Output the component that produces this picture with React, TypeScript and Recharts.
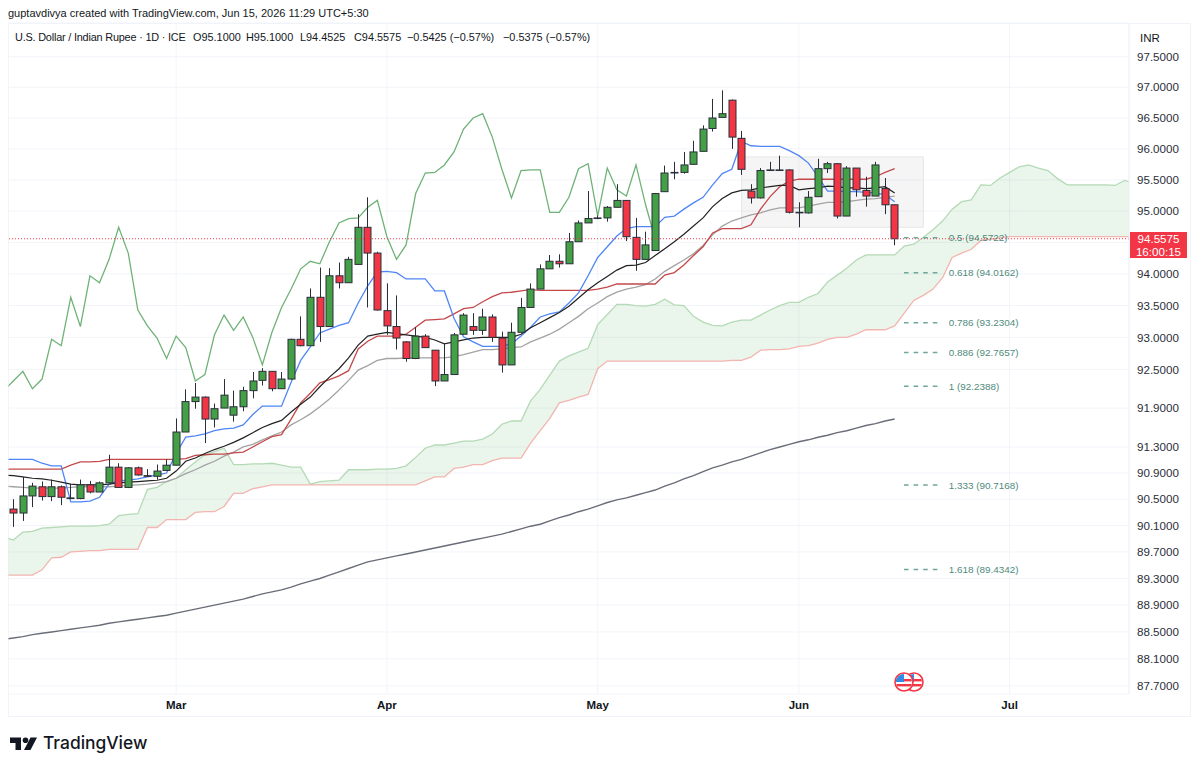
import { ComposedChart, Bar, Line, Area, XAxis, YAxis, CartesianGrid, ReferenceLine, ReferenceArea, ReferenceDot } from 'recharts';

// daily USD/INR candles, bar 0 = Feb 5 2026, last bar (92) = Jun 15 2026
const opens = [
    90.35, 90.29, 90.55, 90.69, 90.54, 90.69, 90.52, 90.51, 90.72, 90.61,
    90.75, 90.99, 90.68, 90.98, 90.86, 90.85, 90.94, 91.02, 91.53, 92.0,
    92.07, 91.73, 91.9, 91.79, 91.92, 92.17, 92.33, 92.47, 92.2, 92.35,
    92.97, 92.87, 93.63, 93.17, 93.97, 93.86, 94.15, 94.74, 94.33, 93.42,
    93.17, 92.93, 92.67, 93.02, 92.8, 92.32, 92.42, 93.05, 93.17, 93.11,
    93.32, 92.99, 92.57, 93.08, 93.47, 93.76, 94.08, 94.2, 94.16, 94.51,
    94.81, 94.88, 94.89, 95.06, 95.17, 94.58, 94.23, 94.37, 95.31, 95.62,
    95.62, 95.75, 95.96, 96.33, 96.51, 96.79, 96.17, 95.32, 95.21, 95.66,
    95.66, 95.66, 94.98, 94.97, 95.23, 95.68, 95.76, 94.92, 95.69, 95.33,
    95.24, 95.36, 95.1,
];
const highs = [
    90.5, 90.84, 90.75, 90.77, 90.8, 90.71, 90.73, 90.8, 90.78, 90.77,
    91.18, 91.05, 90.99, 91.0, 90.96, 91.03, 91.11, 91.74, 92.19, 92.29,
    92.08, 91.97, 92.35, 92.17, 92.23, 92.46, 92.52, 92.47, 92.46, 92.98,
    93.33, 93.77, 94.1, 94.09, 94.18, 94.27, 94.95, 95.22, 94.35, 93.85,
    93.66, 92.94, 93.16, 93.05, 92.8, 92.9, 93.07, 93.38, 93.38, 93.45,
    93.36, 93.09, 93.23, 93.62, 93.85, 94.15, 94.3, 94.31, 94.65, 94.85,
    95.32, 94.93, 95.08, 95.43, 95.17, 94.89, 94.67, 95.29, 95.73, 95.79,
    95.95, 96.13, 96.38, 96.81, 96.95, 96.8, 96.29, 95.43, 95.69, 95.79,
    95.89, 95.67, 95.14, 95.32, 95.84, 95.79, 95.77, 95.72, 95.69, 95.55,
    95.79, 95.53, 95.1,
];
const lows = [
    90.08, 90.17, 90.38, 90.48, 90.47, 90.41, 90.5, 90.5, 90.59, 90.61,
    90.75, 90.68, 90.67, 90.86, 90.84, 90.8, 90.93, 91.02, 91.53, 91.89,
    91.36, 91.6, 91.9, 91.69, 91.85, 92.05, 92.25, 92.16, 92.2, 92.34,
    92.86, 92.87, 92.93, 93.17, 93.77, 93.86, 94.14, 93.47, 93.42, 93.04,
    92.81, 92.62, 92.66, 92.84, 92.24, 92.32, 92.42, 93.04, 93.04, 93.04,
    92.93, 92.45, 92.57, 93.08, 93.47, 93.76, 94.08, 94.1, 94.16, 94.51,
    94.81, 94.87, 94.83, 95.06, 94.52, 94.05, 94.23, 94.37, 95.31, 95.51,
    95.6, 95.75, 95.96, 96.28, 96.51, 96.0, 95.58, 95.12, 95.2, 95.65,
    95.65, 94.96, 94.74, 94.96, 95.23, 95.61, 94.88, 94.92, 95.23, 95.07,
    95.24, 94.95, 94.4525,
];
const closes = [
    90.29, 90.55, 90.7, 90.54, 90.69, 90.53, 90.51, 90.72, 90.61, 90.75,
    90.99, 90.68, 90.98, 90.87, 90.85, 90.93, 91.02, 91.53, 92.0, 92.07,
    91.73, 91.89, 92.1, 91.92, 92.17, 92.32, 92.47, 92.2, 92.35, 92.97,
    92.87, 93.63, 93.17, 93.97, 93.86, 94.23, 94.74, 94.33, 93.43, 93.18,
    92.99, 92.67, 93.02, 92.84, 92.32, 92.42, 93.04, 93.35, 93.11, 93.32,
    93.0, 92.57, 93.08, 93.47, 93.76, 94.08, 94.2, 94.16, 94.51, 94.81,
    94.88, 94.89, 95.06, 95.17, 94.59, 94.23, 94.46, 95.28, 95.61, 95.62,
    95.74, 95.95, 96.32, 96.5, 96.57, 96.19, 95.67, 95.21, 95.65, 95.66,
    95.66, 94.98, 94.98, 95.22, 95.68, 95.76, 94.92, 95.69, 95.34, 95.24,
    95.74, 95.1, 94.5575,
];

// line series below start one bar earlier (bar -1) so they run into the left edge
const conversion = [
    91.11, 91.11, 91.11, 91.11, 91.05, 91.01, 91.01, 90.46, 90.46, 90.47,
    90.53, 90.73, 90.78, 90.79, 90.81, 90.84, 90.87, 90.9, 91.2, 91.45,
    91.47, 91.5, 91.55, 91.58, 91.59, 91.64, 91.8, 91.93, 91.93, 91.93,
    92.3, 92.64, 92.85, 93.07, 93.13, 93.19, 93.23, 93.54, 93.81, 94.03,
    94.04, 94.02, 93.92, 93.92, 93.92, 93.73, 93.73, 93.3, 93.01, 92.93,
    92.86, 92.86, 92.86, 92.9, 93.02, 93.16, 93.32, 93.37, 93.4, 93.54,
    93.7, 93.97, 94.26, 94.43, 94.6, 94.72, 94.75, 94.75, 94.75, 94.9,
    94.92, 95.03, 95.13, 95.22, 95.42, 95.6, 95.67, 96.12, 96.05, 96.04,
    96.04, 96.04, 95.97, 95.89, 95.77, 95.55, 95.32, 95.32, 95.31, 95.31,
    95.3, 95.29, 95.26, 95.15,
];
const baseLine = [
    90.96, 90.96, 90.96, 90.96, 90.96, 90.96, 90.96, 91.02, 91.07, 91.07,
    91.08, 91.11, 91.11, 91.11, 91.11, 91.11, 91.11, 91.11, 91.11, 91.12,
    91.17, 91.18, 91.19, 91.19, 91.21, 91.22, 91.3, 91.38, 91.46, 91.49,
    91.73, 91.98, 92.13, 92.29, 92.34, 92.4, 92.48, 92.82, 92.94, 93.02,
    93.02, 93.02, 93.05, 93.16, 93.27, 93.28, 93.29, 93.37, 93.45, 93.47,
    93.56, 93.64, 93.7, 93.71, 93.73, 93.75, 93.74, 93.74, 93.74, 93.74,
    93.74, 93.74, 93.76, 93.79, 93.84, 93.84, 93.84, 93.84, 93.84, 93.98,
    94.02, 94.14, 94.29, 94.43, 94.65, 94.72, 94.72, 94.72, 94.78, 95.03,
    95.23, 95.39, 95.48, 95.51, 95.51, 95.51, 95.51, 95.51, 95.51, 95.51,
    95.51, 95.55, 95.62, 95.68,
];
const laggingSpan = [
    92.17, 92.32, 92.47, 92.2, 92.35, 92.97, 92.87, 93.63, 93.17, 93.97,
    93.86, 94.23, 94.74, 94.33, 93.43, 93.18, 92.99, 92.67, 93.02, 92.84,
    92.32, 92.42, 93.04, 93.35, 93.11, 93.32, 93.0, 92.57, 93.08, 93.47,
    93.76, 94.08, 94.2, 94.16, 94.51, 94.81, 94.88, 94.89, 95.06, 95.17,
    94.59, 94.23, 94.46, 95.28, 95.61, 95.62, 95.74, 95.95, 96.32, 96.5,
    96.57, 96.19, 95.67, 95.21, 95.65, 95.66, 95.66, 94.98, 94.98, 95.22,
    95.68, 95.76, 94.92, 95.69, 95.34, 95.24, 95.74, 95.1, 94.5575,
];
const emaFast = [
    90.87, 90.86, 90.84, 90.82, 90.81, 90.79, 90.76, 90.73, 90.72, 90.72,
    90.72, 90.73, 90.75, 90.76, 90.77, 90.78, 90.79, 90.82, 90.93, 91.08,
    91.13, 91.2, 91.26, 91.31, 91.37, 91.44, 91.52, 91.6, 91.66, 91.71,
    91.84, 91.96, 92.07, 92.23, 92.38, 92.51, 92.68, 92.88, 93.02, 93.05,
    93.08, 93.06, 93.04, 93.02, 93.0, 92.96, 92.9, 92.93, 92.96, 92.99,
    93.0, 93.0, 93.0, 93.0, 93.05, 93.15, 93.23, 93.31, 93.39, 93.49,
    93.62, 93.75, 93.86, 93.96, 94.06, 94.13, 94.14, 94.18, 94.29, 94.4,
    94.51, 94.63, 94.76, 94.89, 95.07, 95.2, 95.29, 95.33, 95.34, 95.37,
    95.39, 95.41, 95.41, 95.34, 95.36, 95.37, 95.4, 95.39, 95.37, 95.37,
    95.36, 95.37, 95.39, 95.29,
];
const smaMid = [
    90.7, 90.69, 90.68, 90.67, 90.67, 90.67, 90.67, 90.68, 90.69, 90.69,
    90.69, 90.69, 90.7, 90.71, 90.72, 90.73, 90.75, 90.77, 90.82, 90.89,
    90.95, 91.02, 91.08, 91.16, 91.22, 91.3, 91.34, 91.41, 91.47, 91.53,
    91.64, 91.72, 91.81, 91.92, 92.04, 92.18, 92.33, 92.49, 92.56, 92.64,
    92.67, 92.67, 92.68, 92.68, 92.68, 92.68, 92.68, 92.7, 92.73, 92.77,
    92.81, 92.81, 92.82, 92.84, 92.85, 92.93, 92.99, 93.05, 93.13, 93.23,
    93.33, 93.45, 93.54, 93.64, 93.71, 93.76, 93.79, 93.83, 93.92, 94.04,
    94.13, 94.22, 94.32, 94.45, 94.62, 94.76, 94.84, 94.89, 94.94, 94.97,
    95.02, 95.05, 95.05, 95.05, 95.08, 95.11, 95.14, 95.14, 95.15, 95.17,
    95.19, 95.2, 95.22, 95.24,
];
const smaLong = [
    88.39, 88.41, 88.43, 88.46, 88.48, 88.5, 88.52, 88.54, 88.56, 88.58,
    88.6, 88.63, 88.65, 88.67, 88.69, 88.71, 88.73, 88.75, 88.78, 88.81,
    88.84, 88.87, 88.9, 88.93, 88.96, 88.99, 89.03, 89.07, 89.1, 89.13,
    89.17, 89.22, 89.26, 89.3, 89.35, 89.4, 89.45, 89.5, 89.55, 89.58,
    89.61, 89.64, 89.67, 89.7, 89.73, 89.76, 89.79, 89.82, 89.85, 89.88,
    89.91, 89.94, 89.97, 90.01, 90.05, 90.09, 90.12, 90.17, 90.22, 90.26,
    90.31, 90.35, 90.4, 90.45, 90.49, 90.52, 90.56, 90.6, 90.64, 90.7,
    90.75, 90.81, 90.86, 90.92, 90.98, 91.02, 91.07, 91.11, 91.16, 91.21,
    91.26, 91.3, 91.34, 91.38, 91.41, 91.45, 91.48, 91.52, 91.55, 91.59,
    91.63, 91.66, 91.7, 91.73,
];
// leading spans run on past the last candle
const spanA = [
    89.93, 89.88, 90.0, 90.01, 90.06, 90.07, 90.08, 90.09, 90.09, 90.09,
    90.1, 90.12, 90.25, 90.27, 90.28, 90.65, 90.68, 90.77, 90.82, 90.95,
    91.07, 91.18, 91.23, 91.28, 91.03, 91.03, 91.04, 91.04, 91.05, 91.02,
    90.99, 90.99, 90.73, 90.77, 90.78, 90.79, 90.95, 90.95, 90.95, 90.96,
    90.96, 90.97, 91.01, 91.14, 91.28, 91.33, 91.33, 91.36, 91.39, 91.39,
    91.42, 91.5, 91.65, 91.7, 91.7, 92.01, 92.19, 92.41, 92.63, 92.71,
    92.77, 92.83, 93.2, 93.36, 93.52, 93.52, 93.5, 93.49, 93.52, 93.6,
    93.51, 93.5, 93.33, 93.24, 93.19, 93.18, 93.24, 93.27, 93.27, 93.35,
    93.43, 93.5, 93.55, 93.55, 93.63, 93.69, 93.87, 93.98, 94.09, 94.22,
    94.3, 94.3, 94.3, 94.3, 94.44, 94.47, 94.58, 94.7, 94.84, 95.03,
    95.15, 95.18, 95.42, 95.41, 95.53, 95.62, 95.71, 95.74, 95.69, 95.65,
    95.52, 95.42, 95.42, 95.42, 95.42, 95.42, 95.41, 95.49, 95.44,
];
const spanB = [
    89.35, 89.35, 89.35, 89.35, 89.43, 89.61, 89.62, 89.7, 89.71, 89.72,
    89.72, 89.74, 89.74, 89.74, 89.74, 90.07, 90.07, 90.19, 90.19, 90.19,
    90.3, 90.31, 90.31, 90.39, 90.59, 90.59, 90.66, 90.69, 90.72, 90.72,
    90.72, 90.72, 90.72, 90.72, 90.72, 90.72, 90.72, 90.72, 90.72, 90.72,
    90.72, 90.72, 90.72, 90.72, 90.78, 90.84, 90.84, 90.97, 90.99, 91.03,
    91.03, 91.09, 91.13, 91.13, 91.13, 91.36, 91.55, 91.74, 91.98, 92.02,
    92.07, 92.11, 92.51, 92.63, 92.63, 92.63, 92.63, 92.63, 92.63, 92.63,
    92.63, 92.63, 92.63, 92.63, 92.63, 92.63, 92.64, 92.64, 92.69, 92.8,
    92.81, 92.81, 92.82, 92.86, 92.87, 92.91, 92.97, 93.0, 93.0, 93.05,
    93.12, 93.12, 93.12, 93.18, 93.38, 93.58, 93.66, 93.76, 93.94, 94.26,
    94.33, 94.39, 94.53, 94.55, 94.57, 94.59, 94.59, 94.59, 94.59, 94.59,
    94.59, 94.59, 94.59, 94.59, 94.59, 94.59, 94.59, 94.59, 94.59,
];

const priceTicks = [97.5, 97, 96.5, 96, 95.5, 95, 94.5, 94, 93.5, 93, 92.5, 91.9, 91.3, 90.9, 90.5, 90.1, 89.7, 89.3, 88.9, 88.5, 88.1, 87.7];
const monthBars = [17, 39, 61, 82, 104];
const monthNames = ['Mar', 'Apr', 'May', 'Jun', 'Jul'];
const fibRatios = ['0.5', '0.618', '0.786', '0.886', '1', '1.333', '1.618'];
const fibPrices = [94.5722, 94.0162, 93.2304, 92.7657, 92.2388, 90.7168, 89.4342];
const lastPrice = 94.5575;

const rows = spanA.map((a, k) => {
    const c = k - 1;
    return {
        bar: k - 1,
        open: opens[c],
        high: highs[c],
        low: lows[c],
        close: closes[c],
        conversion: conversion[k],
        baseLine: baseLine[k],
        lagging: laggingSpan[k],
        emaFast: emaFast[k],
        smaMid: smaMid[k],
        smaLong: smaLong[k],
        spanA: a,
        spanB: spanB[k],
        cloud: [spanB[k], a],
    };
});

const font = '"Liberation Sans", sans-serif';
const ink = '#131722';
const upColor = '#43a047';
const downColor = '#f23645';
const fibColor = '#4f8b7d';

const Candle = (props: any) => {
    const { x, y, width, height, payload } = props;
    if (payload.high == null) return null;
    const { open, close, high, low } = payload;
    // body position taken from the wick's pixel span, price axis is log
    const spanLog = Math.log(high) - Math.log(low);
    const at = (p: number) => y + (height * (Math.log(high) - Math.log(p))) / spanLog;
    const cx = Math.round(x + width / 2) + 0.5;
    const top = at(Math.max(open, close));
    const bottom = at(Math.min(open, close));
    return (
        <g>
            <line x1={cx} x2={cx} y1={y} y2={y + height} stroke="#2a2e39" strokeWidth={1} />
            <rect
                x={cx - 3.5}
                y={top}
                width={7}
                height={Math.max(bottom - top, 0.6)}
                fill={close >= open ? upColor : downColor}
                stroke="#2a2e39"
                strokeWidth={1}
            />
        </g>
    );
};

const lineProps = { dot: false, activeDot: false, isAnimationActive: false, connectNulls: false, legendType: 'none' as const, zIndex: 250 };

const Flags = () => (
    <svg width={40} height={24} style={{ position: 'absolute', left: 890, top: 670 }}>
        <defs>
            <clipPath id="flagA"><circle cx={14} cy={12} r={8} /></clipPath>
            <clipPath id="flagB"><circle cx={24} cy={12} r={8} /></clipPath>
        </defs>
        {['flagB', 'flagA'].map((id) => {
            const cx = id === 'flagA' ? 14 : 24;
            return (
                <g key={id}>
                    <circle cx={cx} cy={12} r={9} fill="#fff" stroke="#f23645" strokeWidth={1.6} />
                    <g clipPath={`url(#${id})`}>
                        <rect x={cx - 8} y={9} width={16} height={2.4} fill="#f23645" />
                        <rect x={cx - 8} y={14} width={16} height={2.4} fill="#f23645" />
                        <rect x={cx - 8} y={4} width={8} height={8} fill="#2f8be6" />
                    </g>
                </g>
            );
        })}
    </svg>
);

const Logo = () => (
    <svg width={28} height={15} style={{ position: 'absolute', left: 10, top: 736 }}>
        <path d="M0 1.5h11v12.5H5.5V7H0z" fill={ink} />
        <circle cx={15.5} cy={4.3} r={2.8} fill={ink} />
        <path d="M20.5 1.5H27L20.5 14H14z" fill={ink} />
    </svg>
);

const text = (left: number, top: number, s: string, extra: object = {}) => (
    <span style={{ position: 'absolute', left, top, whiteSpace: 'nowrap', fontFamily: font, fontSize: 10.9, color: ink, lineHeight: '14px', ...extra }}>{s}</span>
);

export default function App() {
    return (
        <div style={{ position: 'absolute', left: 0, top: 0, width: 1200, height: 769, background: '#fff', overflow: 'hidden' }}>
            <div style={{ position: 'absolute', left: 8, top: 23, width: 1183, height: 694, border: '1px solid #f0f3fa', boxSizing: 'border-box' }} />
            <div style={{ position: 'absolute', left: 0, top: 0 }}>
                <ComposedChart width={1200} height={769} data={rows} margin={{ top: 23, left: 8.5, right: 9, bottom: 52 }} barSize={7}>
                    <CartesianGrid stroke="#f2f4f9" strokeWidth={1} />
                    <XAxis
                        dataKey="bar"
                        type="number"
                        domain={[-0.5, 116.46]}
                        allowDataOverflow
                        ticks={monthBars}
                        interval={0}
                        tickFormatter={(v: number) => monthNames[monthBars.indexOf(v)]}
                        height={23}
                        axisLine={false}
                        tickLine={false}
                        tickMargin={1}
                        tick={{ fontFamily: font, fontSize: 11.5, fontWeight: 700, fill: ink }}
                    />
                    <YAxis
                        orientation="right"
                        scale="log"
                        domain={[87.58, 98.056]}
                        allowDataOverflow
                        ticks={priceTicks}
                        interval={0}
                        width={62}
                        axisLine={{ stroke: '#f0f3fa' }}
                        tickLine={false}
                        tickMargin={2}
                        tickFormatter={(v: number) => (v === 94.5 ? '' : v.toFixed(4))}
                        tick={{ fontFamily: font, fontSize: 11.6, fill: '#2a2e39' }}
                    />
                    <ReferenceArea x1={76.03} x2={95} y1={94.74} y2={95.87} fill="#808080" fillOpacity={0.08} stroke="#e6e6e6" ifOverflow="visible" />
                    <Area dataKey="cloud" stroke="none" fill={upColor} fillOpacity={0.11} dot={false} activeDot={false} isAnimationActive={false} />
                    <Line dataKey="spanA" stroke="#b4dab6" strokeWidth={1.3} {...lineProps} />
                    <Line dataKey="spanB" stroke="#f3b5af" strokeWidth={1.3} {...lineProps} />
                    <Line dataKey="smaLong" stroke="#6a6d78" strokeWidth={1.4} {...lineProps} />
                    <Line dataKey="lagging" stroke="#6fb277" strokeWidth={1.3} {...lineProps} />
                    <Line dataKey="smaMid" stroke="#a3a3a3" strokeWidth={1.3} {...lineProps} />
                    <Line dataKey="baseLine" stroke="#c4484a" strokeWidth={1.3} {...lineProps} />
                    <Line dataKey="conversion" stroke="#4f86f7" strokeWidth={1.3} {...lineProps} />
                    <Line dataKey="emaFast" stroke="#222" strokeWidth={1.2} {...lineProps} />
                    <Bar dataKey={(d: any) => (d.high == null ? null : [d.low, d.high])} shape={Candle} isAnimationActive={false} />
                    <ReferenceLine y={lastPrice} stroke="#f23645" strokeDasharray="1 2" strokeWidth={1} />
                    {fibPrices.map((p, i) => (
                        <ReferenceLine
                            key={fibRatios[i]}
                            stroke="#6fa89b"
                            strokeDasharray="4.6 5"
                            strokeWidth={1.5}
                            segment={[{ x: 92.97, y: p }, { x: 96.5, y: p }]}
                        />
                    ))}
                    {fibPrices.map((p, i) => (
                        <ReferenceDot
                            key={fibRatios[i]}
                            x={97.65}
                            y={p}
                            r={0}
                            fill="none"
                            stroke="none"
                            label={{ value: `${fibRatios[i]} (${p.toFixed(4)})`, position: 'right', offset: 0, fill: fibColor, fontSize: 9.9, fontFamily: font }}
                        />
                    ))}
                </ComposedChart>
            </div>

            {text(8, 6, 'guptavdivya created with TradingView.com, Jun 15, 2026 11:29 UTC+5:30', { fontSize: 11 })}
            {text(15, 30, 'U.S. Dollar / Indian Rupee · 1D · ICE', { letterSpacing: -0.2 })}
            {text(193, 30, 'O95.1000')}
            {text(246, 30, 'H95.1000')}
            {text(300, 30, 'L94.4525')}
            {text(354, 30, 'C94.5575')}
            {text(407, 30, '−0.5425 (−0.57%)')}
            {text(503, 30, '−0.5375 (−0.57%)')}
            {text(1140, 31, 'INR', { fontSize: 11.5 })}

            <div style={{ position: 'absolute', left: 1130, top: 232, width: 57, height: 26, background: downColor, color: '#fff', fontFamily: font, fontSize: 11.6, lineHeight: '13px', textAlign: 'center' }}>
                <div>94.5575</div>
                <div>16:00:15</div>
            </div>

            <Flags />
            <Logo />
            {text(43, 731, 'TradingView', { fontFamily: 'Inter, sans-serif', fontSize: 17.4, fontWeight: 500, lineHeight: '24px', color: ink })}
        </div>
    );
}
